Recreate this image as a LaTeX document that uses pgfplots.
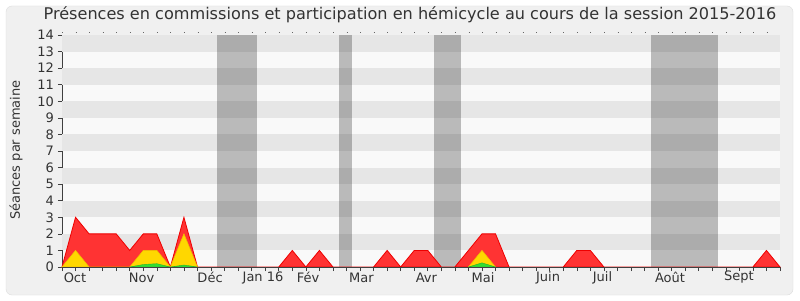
\documentclass[border=0pt]{standalone}
\usepackage{fontspec}
\setmainfont{DejaVu Sans}
\usepackage{pgfplots}
\pgfplotsset{compat=1.18}
\definecolor{bgout}{HTML}{F0F0F0}
\definecolor{bordc}{HTML}{DDDDDD}
\definecolor{bandd}{HTML}{E6E6E6}
\definecolor{bandl}{HTML}{F9F9F9}
\definecolor{redf}{HTML}{FF3333}
\definecolor{redl}{HTML}{EE0000}
\definecolor{yelf}{HTML}{FFD700}
\definecolor{yell}{HTML}{F0C000}
\definecolor{grnf}{HTML}{33DD33}
\definecolor{txt}{HTML}{333333}
\begin{document}
\begin{tikzpicture}
\begin{scope}[x=1bp,y=1bp]
\fill[white] (0,0) rectangle (800,300);
\draw[bordc, fill=bgout, rounded corners=6bp] (6,5) rectangle (793,294);
\node[txt, font=\fontsize{16.1bp}{18bp}\selectfont] at (410,285) {Présences en commissions et participation en hémicycle au cours de la session 2015-2016};
\node[txt, font=\fontsize{13bp}{13bp}\selectfont, rotate=90] at (16,150) {Séances par semaine};
\end{scope}
\begin{axis}[
  at={(62bp,33bp)}, anchor=origin,
  scale only axis, width=718bp, height=232bp,
  xmin=0, xmax=53, ymin=0, ymax=14,
  axis x line*=bottom, axis y line*=left,
  axis line style={-, color=black!75},
  axis background/.style={fill=bandl},
  xtick={0,...,53}, xticklabels={},
  ytick={0,...,14},
  tick align=outside,
  major tick length=4bp,
  tick style={color=black!75, line width=0.6pt},
  /pgf/number format/assume math mode=true,
  yticklabel style={font=\fontsize{13bp}{13bp}\selectfont, color=txt, inner sep=1bp, xshift=-3bp},
  extra x ticks={0.96,5.88,10.93,14.84,18.16,22.1,26.9,31.08,35.88,39.9,44.88,49.97},
  extra x tick labels={Oct,Nov,Déc,Jan 16,Fév,Mar,Avr,Mai,Juin,Juil,Août,Sept},
  extra x tick style={major tick length=0bp, tick label style={font=\fontsize{13bp}{13bp}\selectfont, color=txt, anchor=center, yshift=-10.5bp}},
  clip=false,
]
\pgfplotsinvokeforeach{1,3,5,7,9,11,13}{
  \fill[bandd] (axis cs:0,#1) rectangle (axis cs:53,#1+1);
}
\draw[black!60, dash pattern=on 0.8bp off 12.75bp] (axis cs:0,14.15) -- (axis cs:53,14.15);
\fill[black, opacity=0.25] (axis cs:11.43,0) rectangle (axis cs:14.43,14);
\fill[black, opacity=0.25] (axis cs:20.43,0) rectangle (axis cs:21.44,14);
\fill[black, opacity=0.25] (axis cs:27.43,0) rectangle (axis cs:29.47,14);
\fill[black, opacity=0.25] (axis cs:43.44,0) rectangle (axis cs:48.45,14);
\addplot[fill=redf, draw=redl, line width=0.8pt] table {
x y
0 0
1 3
2 2
3 2
4 2
5 1
6 2
7 2
8 0
9 3
10 0
11 0
12 0
13 0
14 0
15 0
16 0
17 1
18 0
19 1
20 0
21 0
22 0
23 0
24 1
25 0
26 1
27 1
28 0
29 0
30 1
31 2
32 2
33 0
34 0
35 0
36 0
37 0
38 1
39 1
40 0
41 0
42 0
43 0
44 0
45 0
46 0
47 0
48 0
49 0
50 0
51 0
52 1
53 0
} \closedcycle;
\addplot[fill=yelf, draw=yell, line width=0.6pt] table {
x y
0 0
1 1
2 0
5 0
6 1
7 1
8 0
9 2
10 0
} \closedcycle;
\addplot[fill=yelf, draw=yell, line width=0.6pt] table {
x y
30 0
31 1
32 0
} \closedcycle;
\addplot[fill=grnf, draw=grnf!80!black, line width=0.4pt] table {
x y
5 0
6 0.15
7 0.2
8 0
9 0.12
10 0
} \closedcycle;
\addplot[fill=grnf, draw=grnf!80!black, line width=0.4pt] table {
x y
30 0
31 0.25
32 0
} \closedcycle;
\draw[black!75, line width=0.6pt] (axis cs:0,0) -- (axis cs:53,0);
\end{axis}
\end{tikzpicture}
\end{document}
